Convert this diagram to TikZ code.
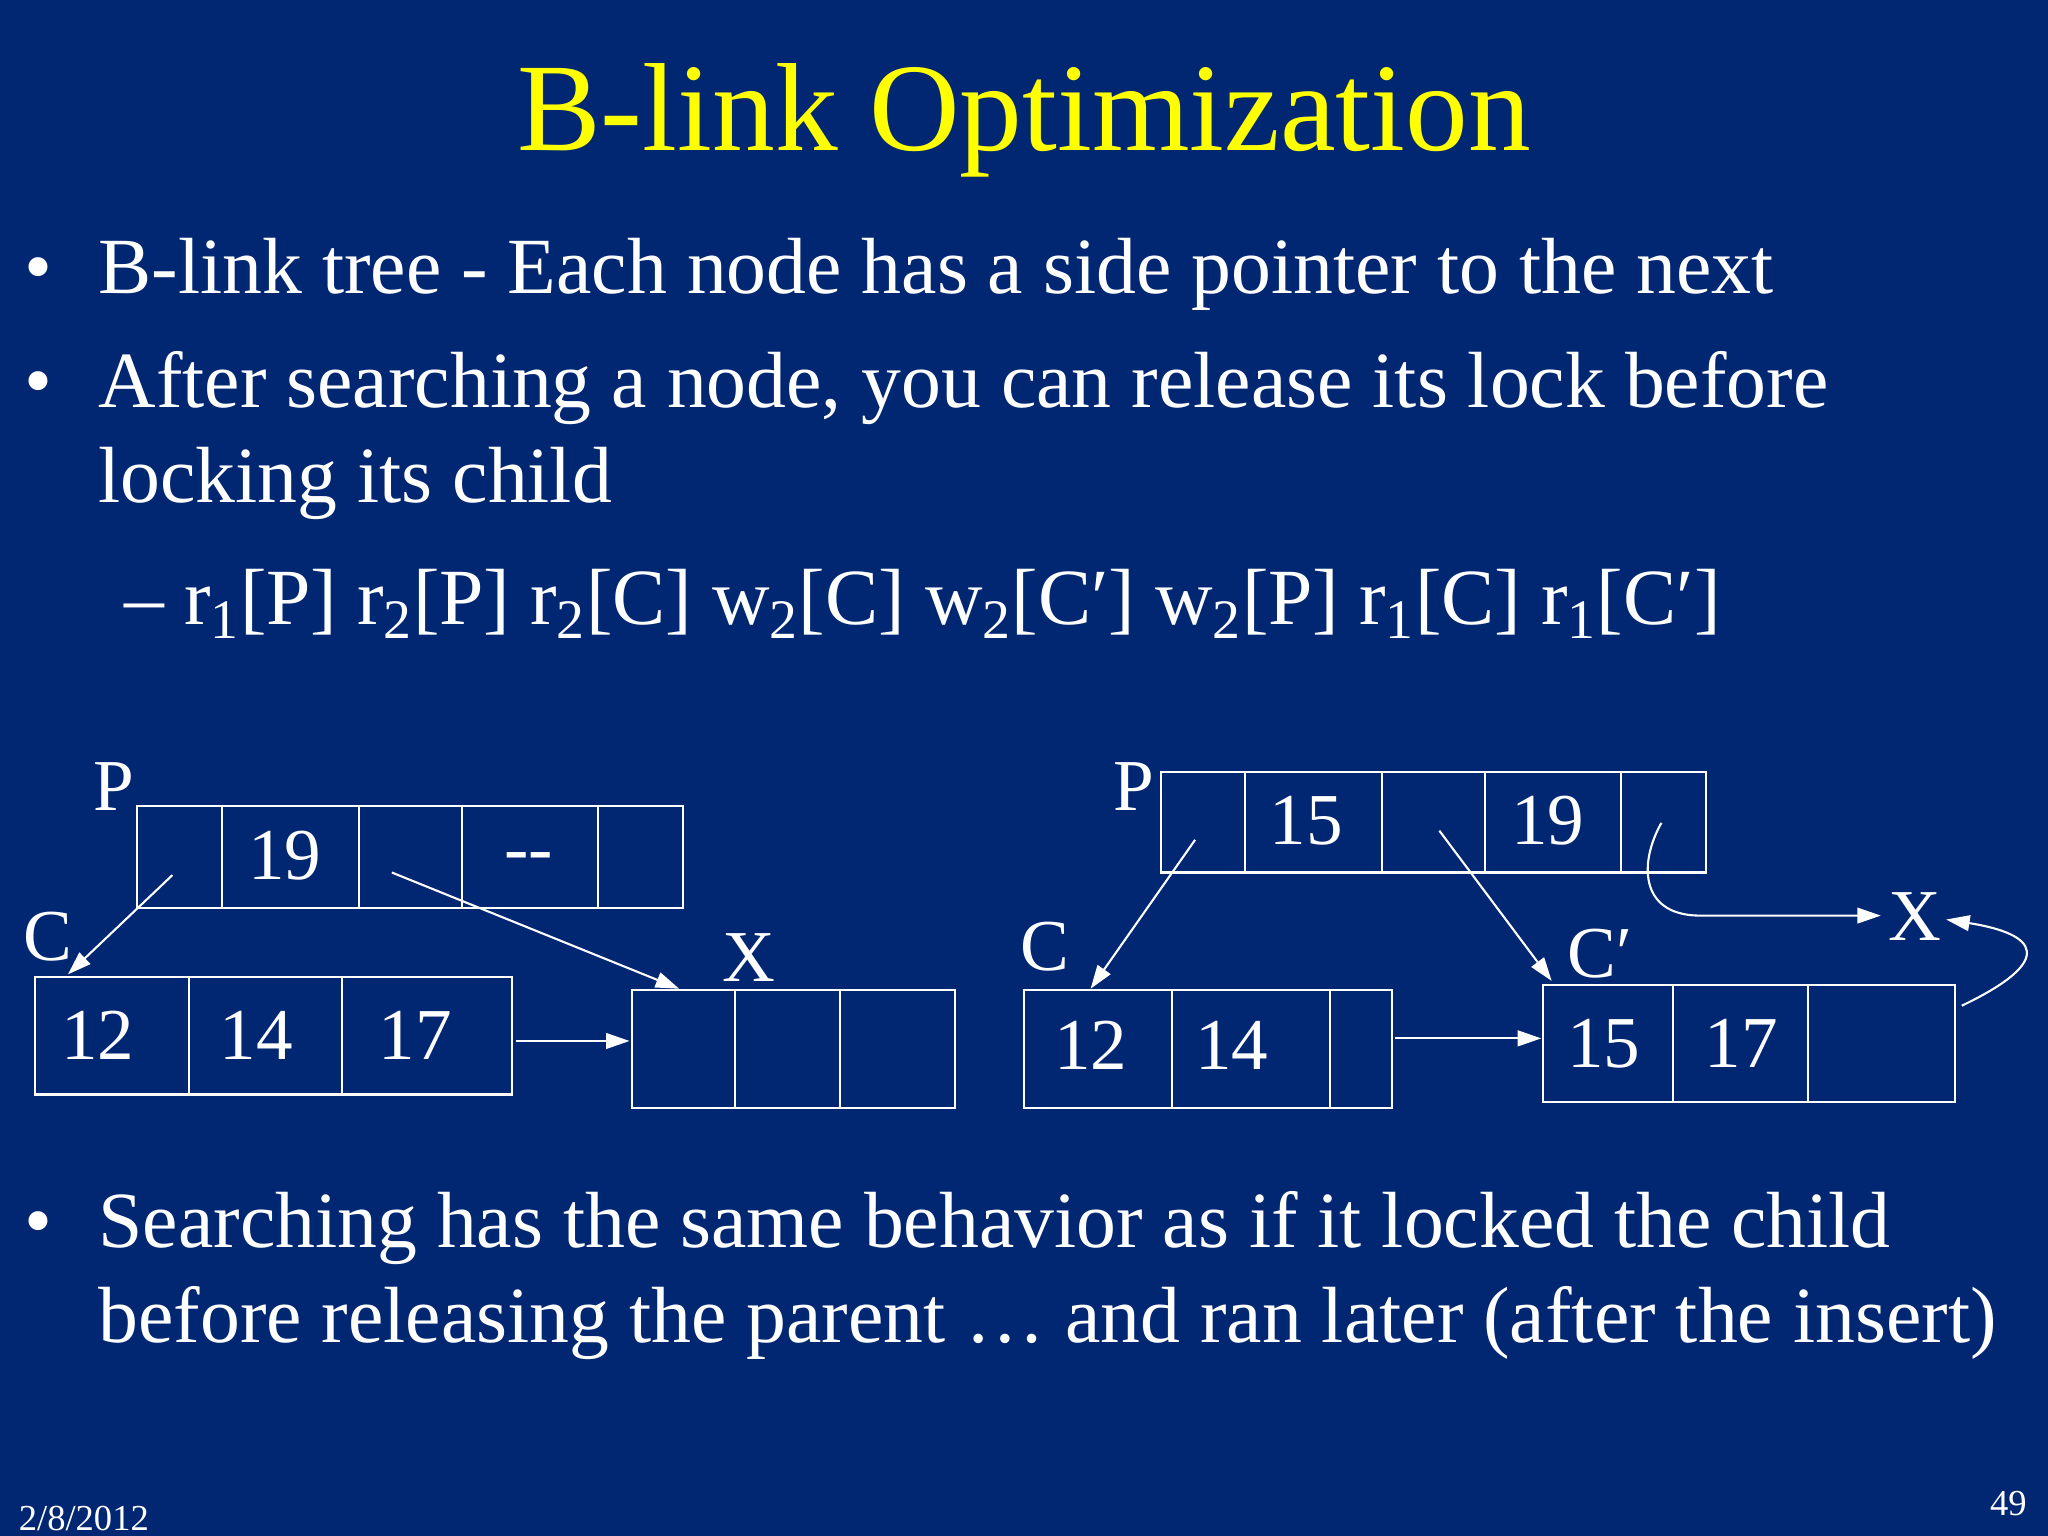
\documentclass[tikz,border=0pt]{standalone}
\usepackage{fontspec}
\setmainfont{Liberation Serif}
\usetikzlibrary{arrows.meta}
\definecolor{bg}{HTML}{012672}
\definecolor{ttl}{HTML}{FFFF00}
\begin{document}
\begin{tikzpicture}[x=0.5pt,y=-0.5pt,
  box/.style={draw=white,line width=0.8pt},
  arr/.style={draw=white,line width=0.8pt,-{Triangle[length=9pt,width=6pt]}},
  lbl/.style={text=white,font=\fontsize{28}{30}\selectfont,inner sep=0pt},
  txt/.style={text=white,font=\fontsize{30.5}{33}\selectfont,inner sep=0pt,anchor=base west}]
\fill[bg] (0,0) rectangle (1568,1176);
\useasboundingbox (0,0) rectangle (1568,1176);
\node[text=ttl,font=\fontsize{48}{52}\selectfont,inner sep=0pt,anchor=base] (title) at (784,115) {B-link Optimization};
\node[txt] (b1d) at (18,225) {•};
\node[txt] (b1) at (75,225) {B-link tree - Each node has a side pointer to the next};
\node[txt] (b2d) at (18,312) {•};
\node[txt] (b2) at (75,312) {After searching a node, you can release its lock before};
\node[txt] (b2b) at (75,385) {locking its child};
\node[txt] (b3) at (95,478) {– r\textsubscript{1}[P] r\textsubscript{2}[P] r\textsubscript{2}[C] w\textsubscript{2}[C] w\textsubscript{2}[C′] w\textsubscript{2}[P] r\textsubscript{1}[C] r\textsubscript{1}[C′]};
\node[txt] (b4d) at (18,955) {•};
\node[txt] (b4) at (75,955) {Searching has the same behavior as if it locked the child};
\node[txt] (b4b) at (75,1028) {before releasing the parent … and ran later (after the insert)};
\node[text=white,font=\fontsize{14}{15}\selectfont,inner sep=0pt,anchor=base west] (date) at (14,1172) {2/8/2012};
\node[text=white,font=\fontsize{14}{15}\selectfont,inner sep=0pt,anchor=base east] (pg) at (1552,1160) {49};
% left diagram
\draw[box] (105,617) rectangle (523,695);
\foreach \x in {170,275,354,458} \draw[box] (\x,617) -- (\x,695);
\node[lbl] (lp19) at (218,655) {19};
\node[lbl] (lpdd) at (405,660) {-{}-};
\draw[box] (27,748) rectangle (392,838);
\foreach \x in {145,262} \draw[box] (\x,748) -- (\x,838);
\node[lbl] (lc12) at (75,793) {12};
\node[lbl] (lc14) at (196,793) {14};
\node[lbl] (lc17) at (318,793) {17};
\draw[box] (484,758) rectangle (731,848);
\foreach \x in {563,643} \draw[box] (\x,758) -- (\x,848);
\node[lbl] (lP) at (87,602) {P};
\node[lbl] (lC) at (37,717) {C};
\node[lbl] (lX) at (573,733) {X};
\coordinate (la1) at (132,670); \coordinate (la1e) at (52,746);
\coordinate (la2) at (300,668); \coordinate (la2e) at (520,757);
\coordinate (la3) at (395,797); \coordinate (la3e) at (482,797);
\draw[arr] (la1) -- (la1e);
\draw[arr] (la2) -- (la2e);
\draw[arr] (la3) -- (la3e);
% right diagram
\draw[box] (889,591) rectangle (1306,668);
\foreach \x in {953,1058,1137,1241} \draw[box] (\x,591) -- (\x,668);
\node[lbl] (rp15) at (1000,628) {15};
\node[lbl] (rp19) at (1185,628) {19};
\draw[box] (784,758) rectangle (1066,848);
\foreach \x in {897,1018} \draw[box] (\x,758) -- (\x,848);
\node[lbl] (rc12) at (835,800) {12};
\node[lbl] (rc14) at (943,800) {14};
\draw[box] (1181,754) rectangle (1497,844);
\foreach \x in {1281,1384} \draw[box] (\x,754) -- (\x,844);
\node[lbl] (rd15) at (1228,799) {15};
\node[lbl] (rd17) at (1333,799) {17};
\node[lbl] (rP) at (868,602) {P};
\node[lbl] (rC) at (800,725) {C};
\node[lbl] (rCp) at (1225,730) {C′};
\node[lbl] (rX) at (1466,702) {X};
\coordinate (ra1) at (915,643); \coordinate (ra1e) at (835,757);
\coordinate (ra2) at (1102,636); \coordinate (ra2e) at (1188,751);
\coordinate (ra3) at (1068,795); \coordinate (ra3e) at (1180,795);
\coordinate (ra4) at (1272,630); \coordinate (ra4e) at (1440,701);
\coordinate (ra5) at (1502,770); \coordinate (ra5e) at (1490,704);
\draw[arr] (ra1) -- (ra1e);
\draw[arr] (ra2) -- (ra2e);
\draw[arr] (ra3) -- (ra3e);
\draw[arr] (ra4) .. controls (1255,660) and (1255,700) .. (1300,701) -- (ra4e);
\draw[arr] (ra5) .. controls (1575,735) and (1560,715) .. (ra5e);
\end{tikzpicture}
\end{document}
